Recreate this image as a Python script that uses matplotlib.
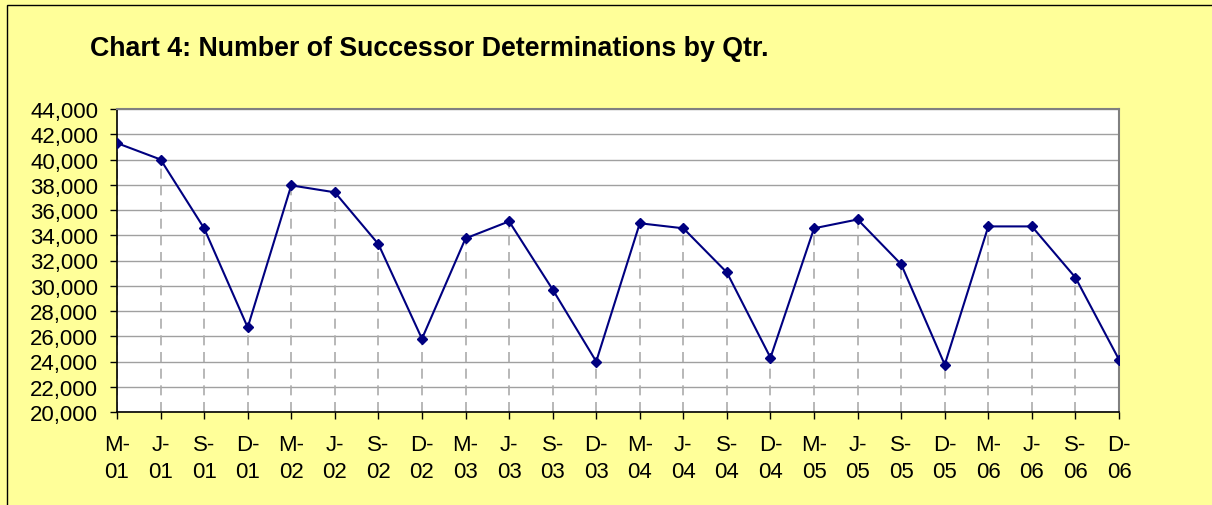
import matplotlib
matplotlib.use("Agg")
import matplotlib.pyplot as plt
from matplotlib.patches import Rectangle

plt.rcParams['font.family'] = ['Liberation Sans', 'DejaVu Sans']

quarters = ["M-\n01", "J-\n01", "S-\n01", "D-\n01",
            "M-\n02", "J-\n02", "S-\n02", "D-\n02",
            "M-\n03", "J-\n03", "S-\n03", "D-\n03",
            "M-\n04", "J-\n04", "S-\n04", "D-\n04",
            "M-\n05", "J-\n05", "S-\n05", "D-\n05",
            "M-\n06", "J-\n06", "S-\n06", "D-\n06"]
determinations = [41300, 40000, 34550, 26700,
                  37950, 37400, 33300, 25800,
                  33750, 35100, 29700, 24000,
                  34950, 34550, 31050, 24300,
                  34550, 35250, 31700, 23750,
                  34700, 34700, 30650, 24150]
y_ticks = list(range(20000, 44001, 2000))

fig = plt.figure(figsize=(12.12, 5.06), dpi=100)
fig.patch.set_facecolor('#FFFF99')
# chart frame (only top/left edges visible in the crop)
fig.add_artist(Rectangle((7 / 1212, -0.1), 1.2, 1 - 6 / 506 + 0.1,
                         transform=fig.transFigure, facecolor='none',
                         edgecolor='black', linewidth=1.0))

ax = fig.add_axes([117 / 1212, 93 / 506, 1002 / 1212, 303 / 506])
ax.set_facecolor('white')

x = list(range(len(determinations)))

# drop lines
ax.vlines(x, 20000, determinations, colors='#ABABAB', linestyles=(0, (6, 4)),
          linewidth=1.2, zorder=2)
ax.plot(x, determinations, color='#000080', linewidth=1.5, marker='D',
        markersize=5, zorder=4)

ax.set_xlim(0, len(x) - 1)
ax.set_ylim(20000, 44000)
ax.set_yticks(y_ticks)
ax.set_yticklabels([f"{v:,}" for v in y_ticks])
ax.set_xticks(x)
ax.set_xticklabels(quarters, linespacing=1.38)
ax.yaxis.grid(True, color='#A0A0A0', linewidth=1.0)
ax.set_axisbelow(True)

ax.tick_params(axis='both', direction='out', length=5, width=1, colors='black',
               labelsize=16)
ax.tick_params(axis='y', pad=8.5)
ax.tick_params(axis='x', pad=11)

for side in ('left', 'bottom'):
    ax.spines[side].set_color('black')
    ax.spines[side].set_linewidth(1.2)
for side in ('top', 'right'):
    ax.spines[side].set_color('#808080')
    ax.spines[side].set_linewidth(1.5)

fig.text(90 / 1212, 1 - 49 / 506, "Chart 4: Number of Successor Determinations by Qtr.",
         fontsize=19.3, fontweight='bold', va='center', ha='left')

fig.savefig("out.png", dpi=100, facecolor=fig.get_facecolor())
